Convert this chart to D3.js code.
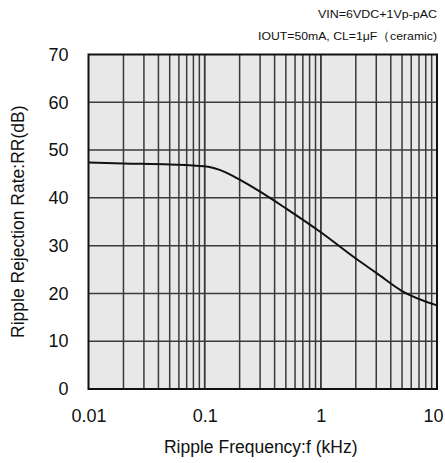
<!DOCTYPE html>
<html><head><meta charset="utf-8">
<script src="https://cdn.jsdelivr.net/npm/d3@7"></script>
<style>body{margin:0;background:#fff}svg{display:block}text{font-family:"Liberation Sans",Arial,sans-serif;fill:#111}</style>
</head><body>
<svg id="c" width="445" height="463"></svg>
<script>
const freqs = [0.01, 0.02, 0.05, 0.1, 0.15, 0.2, 0.3, 0.5, 1, 2, 3, 5, 10];
const rr    = [47.4, 47.2, 47.0, 46.6, 45.4, 43.8, 41.3, 37.8, 32.8, 27.3, 24.3, 20.5, 17.5];
const xTicks = [0.01, 0.1, 1, 10];
const xTickLabels = ["0.01", "0.1", "1", "10"];
const yTicks = [0, 10, 20, 30, 40, 50, 60, 70];
const note1 = "VIN=6VDC+1Vp-pAC";
const note2 = "IOUT=50mA,  CL=1\u03bcF\uff08ceramic)";
const xTitle = "Ripple Frequency:f (kHz)";
const yTitle = "Ripple Rejection Rate:RR(dB)";

const svg = d3.select("#c");
const L = 88.5, R = 437, T = 54.5, B = 389;
const x = d3.scaleLog().domain([0.01, 10]).range([L, R]);
const y = d3.scaleLinear().domain([0, 70]).range([B, T]);

svg.append("rect").attr("x", L).attr("y", T).attr("width", R - L).attr("height", B - T).attr("fill", "#e8e8e8");

const vgrid = [];
for (let d = 0.01; d < 10; d *= 10) for (let k = 1; k <= 10; k++) vgrid.push(+(d * k).toPrecision(3));
svg.append("g").selectAll("line").data(vgrid.filter(v => v > 0.01 && v < 10)).join("line")
  .attr("x1", d => x(d)).attr("x2", d => x(d)).attr("y1", T).attr("y2", B)
  .attr("stroke", "#3a3a3a").attr("stroke-width", 1.5);
svg.append("g").selectAll("line").data(yTicks.filter(v => v > 0 && v < 70)).join("line")
  .attr("x1", L).attr("x2", R).attr("y1", d => y(d)).attr("y2", d => y(d))
  .attr("stroke", "#3a3a3a").attr("stroke-width", 1.5);

const yAxis = d3.axisLeft(y).tickValues(yTicks).tickSize(0).tickPadding(20).tickFormat(d3.format("d"));
const gy = svg.append("g").attr("transform", `translate(${L},0)`).call(yAxis);
gy.select(".domain").remove();
gy.selectAll("text").attr("font-size", 18).attr("fill", "#111").attr("font-family", '"Liberation Sans",Arial,sans-serif');

const xAxis = d3.axisBottom(x).tickValues(xTicks).tickSize(0).tickPadding(20).tickFormat((d, i) => xTickLabels[i]);
const gx = svg.append("g").attr("transform", `translate(0,${B})`).call(xAxis);
gx.select(".domain").remove();
gx.selectAll("text").attr("font-size", 18).attr("fill", "#111").attr("font-family", '"Liberation Sans",Arial,sans-serif')
  .filter(d => d === 10).attr("text-anchor", "end").attr("dx", 6);

const line = d3.line().x((d, i) => x(freqs[i])).y(d => y(d)).curve(d3.curveMonotoneX);
svg.append("path").datum(rr).attr("d", line).attr("fill", "none").attr("stroke", "#111").attr("stroke-width", 2);

svg.append("rect").attr("x", L).attr("y", T).attr("width", R - L).attr("height", B - T)
  .attr("fill", "none").attr("stroke", "#111").attr("stroke-width", 2);

svg.append("text").attr("x", (L + R) / 2 - 2).attr("y", 453).attr("text-anchor", "middle").attr("font-size", 17.5).text(xTitle);
svg.append("text").attr("transform", `translate(24,${(T + B) / 2}) rotate(-90)`).attr("text-anchor", "middle").attr("font-size", 17.5).text(yTitle);

svg.append("text").attr("x", 437).attr("y", 18).attr("text-anchor", "end").attr("font-size", 10.5)
  .attr("textLength", 119).attr("lengthAdjust", "spacingAndGlyphs").text(note1);
svg.append("text").attr("x", 437).attr("y", 40).attr("text-anchor", "end").attr("font-size", 11.5)
  .attr("textLength", 179).attr("lengthAdjust", "spacingAndGlyphs").text(note2);
</script>
</body></html>
